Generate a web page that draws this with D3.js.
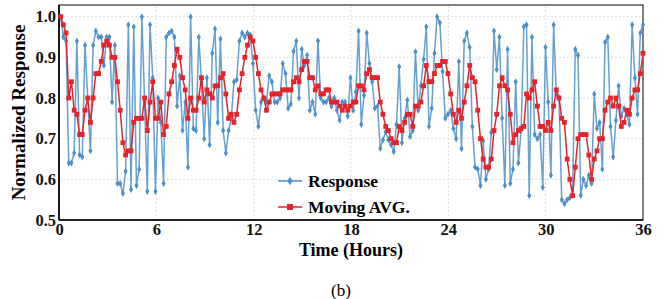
<!DOCTYPE html>
<html>
<head>
<meta charset="utf-8">
<script src="https://cdn.jsdelivr.net/npm/d3@7"></script>
<style>
  body { margin: 0; background: #fff; }
  text { font-family: "Liberation Serif", "DejaVu Serif", serif; }
</style>
</head>
<body>
<svg id="chart"></svg>
<script>
const width = 669;
const height = 299;

// readings, one every ~10 minutes over 36 hours
const response = [
  1.00, 0.95, 0.94, 0.64, 0.64, 0.665, 0.94, 0.66, 0.655, 0.93,
  0.80, 0.67, 0.93, 0.965, 0.95, 0.95, 0.88, 0.95, 0.95, 0.79,
  0.93, 0.59, 0.59, 0.565, 0.62, 0.98, 0.575, 0.975, 0.585, 0.625,
  1.00, 0.79, 0.57, 0.98, 0.85, 0.57, 0.80, 0.74, 0.59, 0.95,
  0.96, 0.965, 0.95, 0.78, 0.855, 0.72, 0.79, 0.63, 1.00, 0.725,
  0.72, 0.95, 0.84, 0.70, 0.85, 0.685, 0.91, 0.97, 0.74, 0.945,
  0.72, 0.665, 0.72, 0.75, 0.84, 0.845, 0.94, 0.96, 0.95, 0.96,
  0.955, 0.885, 0.77, 0.73, 0.79, 0.80, 0.79, 0.855, 0.84, 0.79,
  0.79, 0.80, 0.885, 0.86, 0.775, 0.785, 0.915, 0.94, 0.80, 0.92,
  0.88, 0.905, 0.77, 0.79, 0.76, 0.94, 0.80, 0.79, 0.79, 0.80,
  0.78, 0.80, 0.77, 0.745, 0.79, 0.79, 0.755, 0.85, 0.77, 0.815,
  0.965, 0.735, 0.807, 0.96, 0.885, 0.84, 0.775, 0.78, 0.676, 0.697,
  0.717, 0.697, 0.685, 0.668, 0.735, 0.877, 0.69, 0.75, 0.795, 0.705,
  0.72, 0.914, 0.77, 0.83, 0.895, 0.975, 0.73, 0.775, 0.91, 1.00,
  0.985, 0.865, 0.75, 0.76, 0.77, 0.725, 0.70, 0.89, 0.675, 0.94,
  0.96, 0.925, 0.73, 0.63, 0.625, 0.585, 0.695, 0.60, 0.625, 0.715,
  0.965, 0.87, 0.95, 0.75, 0.585, 0.92, 0.59, 0.625, 0.84, 0.64,
  0.72, 0.975, 0.98, 0.56, 0.95, 0.71, 0.70, 0.71, 0.58, 0.925,
  0.79, 0.61, 0.98, 0.81, 0.80, 0.55, 0.54, 0.55, 0.555, 0.56,
  0.92, 0.905, 0.56, 0.60, 0.585, 0.61, 0.59, 0.81, 0.725, 0.74,
  0.625, 0.937, 0.95, 0.73, 0.655, 0.745, 0.83, 0.755, 0.775, 0.76,
  0.735, 0.98, 0.85, 0.76, 0.96, 0.98
];

const movingAvg = [
  1.00, 0.98, 0.96, 0.80, 0.84, 0.77, 0.76, 0.71, 0.71, 0.77,
  0.80, 0.74, 0.80, 0.86, 0.86, 0.89, 0.93, 0.94, 0.93, 0.90,
  0.90, 0.84, 0.77, 0.69, 0.66, 0.67, 0.67, 0.74, 0.75, 0.75,
  0.75, 0.80, 0.72, 0.79, 0.84, 0.75, 0.75, 0.79, 0.71, 0.73,
  0.81, 0.84, 0.88, 0.92, 0.90, 0.85, 0.82, 0.75, 0.80, 0.77,
  0.77, 0.80, 0.85, 0.79, 0.82, 0.81, 0.80, 0.83, 0.83, 0.85,
  0.86, 0.81, 0.75, 0.76, 0.74, 0.76, 0.82, 0.86, 0.90, 0.93,
  0.95, 0.94, 0.90, 0.86, 0.82, 0.80, 0.77, 0.79, 0.81, 0.81,
  0.81, 0.81, 0.82, 0.82, 0.82, 0.82, 0.84, 0.85, 0.84, 0.87,
  0.89, 0.89, 0.85, 0.85, 0.82, 0.83, 0.81, 0.81, 0.82, 0.82,
  0.79, 0.79, 0.79, 0.78, 0.77, 0.78, 0.77, 0.78, 0.79, 0.79,
  0.83, 0.83, 0.82, 0.86, 0.87, 0.85, 0.85, 0.85, 0.79, 0.76,
  0.73, 0.72, 0.70, 0.69, 0.69, 0.73, 0.72, 0.74, 0.76, 0.76,
  0.73, 0.78, 0.78, 0.79, 0.83, 0.88, 0.84, 0.84, 0.86, 0.88,
  0.88, 0.89, 0.89, 0.86, 0.81, 0.76, 0.74, 0.77, 0.75, 0.79,
  0.83, 0.88, 0.85, 0.84, 0.77, 0.70, 0.65, 0.63, 0.63, 0.65,
  0.72, 0.76, 0.83, 0.85, 0.83, 0.82, 0.76, 0.69, 0.71, 0.72,
  0.725, 0.73, 0.81, 0.80, 0.82, 0.84, 0.78, 0.73, 0.73, 0.72,
  0.74, 0.72, 0.78, 0.82, 0.80, 0.75, 0.74, 0.65, 0.60, 0.56,
  0.63, 0.70, 0.71, 0.71, 0.71, 0.66, 0.60, 0.65, 0.67, 0.70,
  0.70, 0.77, 0.79, 0.80, 0.78, 0.80, 0.78, 0.73, 0.74, 0.77,
  0.76, 0.80, 0.82, 0.82, 0.86, 0.91
];

// sample times in hours (first sample ~6 min in, then every ~10 min)
const hours = response.map((d, i) => 0.1 + i * 35.9 / (response.length - 1));

const xTicks = [0, 6, 12, 18, 24, 30, 36];
const yTicks = [0.5, 0.6, 0.7, 0.8, 0.9, 1.0];

const margin = { top: 5, right: 26, bottom: 79, left: 59 };

var svg = d3.select("#chart")
    .attr("width", width)
    .attr("height", height);

var x = d3.scaleLinear()
    .domain([0, 36])
    .range([margin.left, width - margin.right]);

var y = d3.scaleLinear()
    .domain([0.5, 1.0287])
    .range([height - margin.bottom, margin.top]);

// grid
svg.append("g")
    .selectAll("line.vg")
    .data(xTicks)
    .enter().append("line")
    .attr("x1", d => x(d)).attr("x2", d => x(d))
    .attr("y1", y.range()[0]).attr("y2", y.range()[1])
    .attr("stroke", "#d6d6d6")
    .attr("stroke-width", 0.8)
    .attr("stroke-dasharray", "2,2");

svg.append("g")
    .selectAll("line.hg")
    .data(yTicks)
    .enter().append("line")
    .attr("y1", d => y(d)).attr("y2", d => y(d))
    .attr("x1", x.range()[0]).attr("x2", x.range()[1])
    .attr("stroke", "#d6d6d6")
    .attr("stroke-width", 0.8)
    .attr("stroke-dasharray", "2,2");

// axes
var xAxis = svg.append("g")
    .attr("transform", `translate(0,${y.range()[0]})`)
    .call(d3.axisBottom(x).tickValues(xTicks).tickSize(0).tickPadding(3));

var yAxis = svg.append("g")
    .attr("transform", `translate(${x.range()[0]},0)`)
    .call(d3.axisLeft(y).tickValues(yTicks).tickFormat(d3.format(".1f")).tickSize(0).tickPadding(3));

[xAxis, yAxis].forEach(a => {
    a.select(".domain").remove();
    a.selectAll("text")
        .style("font-family", "'Liberation Serif', serif")
        .style("font-size", "16.5px")
        .style("font-weight", "bold")
        .attr("fill", "#111");
});

// frame
svg.append("rect")
    .attr("x", x.range()[0])
    .attr("y", margin.top)
    .attr("width", x.range()[1] - x.range()[0])
    .attr("height", y.range()[0] - margin.top)
    .attr("fill", "none")
    .attr("stroke", "#333")
    .attr("stroke-width", 1.2);

svg.append("line")
    .attr("x1", x.range()[0]).attr("x2", x.range()[1])
    .attr("y1", y.range()[0]).attr("y2", y.range()[0])
    .attr("stroke", "#000").attr("stroke-width", 1.6);
svg.append("line")
    .attr("x1", x.range()[0]).attr("x2", x.range()[0])
    .attr("y1", margin.top).attr("y2", y.range()[0])
    .attr("stroke", "#000").attr("stroke-width", 1.6);

// series
const blue = "#4a8fc9";
const red = "#e3242b";

var line = d3.line()
    .x((d, i) => x(hours[i]))
    .y(d => y(d));

svg.append("path")
    .datum(response)
    .attr("fill", "none")
    .attr("stroke", blue)
    .attr("stroke-opacity", 0.85)
    .attr("stroke-width", 1.5)
    .attr("d", line);

var diamond = d3.symbol().type(d3.symbolDiamond).size(14);

svg.append("g")
    .selectAll("path")
    .data(response)
    .enter().append("path")
    .attr("transform", (d, i) => `translate(${x(hours[i])},${y(d)})`)
    .attr("d", diamond)
    .attr("fill", blue);

svg.append("path")
    .datum(movingAvg)
    .attr("fill", "none")
    .attr("stroke", red)
    .attr("stroke-width", 1.5)
    .attr("d", line);

svg.append("g")
    .selectAll("rect")
    .data(movingAvg)
    .enter().append("rect")
    .attr("x", (d, i) => x(hours[i]) - 2.4)
    .attr("y", d => y(d) - 2.4)
    .attr("width", 4.8)
    .attr("height", 4.8)
    .attr("fill", red);

// legend
var legend = svg.append("g").attr("transform", "translate(278,181)");

legend.append("line")
    .attr("x1", 0).attr("x2", 24).attr("y1", 0).attr("y2", 0)
    .attr("stroke", blue).attr("stroke-width", 1.5);
legend.append("path")
    .attr("transform", "translate(12,0)")
    .attr("d", d3.symbol().type(d3.symbolDiamond).size(22))
    .attr("fill", blue);
legend.append("text")
    .attr("x", 30).attr("y", 6)
    .style("font-size", "17.5px").style("font-weight", "bold")
    .text("Response");

legend.append("line")
    .attr("x1", 0).attr("x2", 24).attr("y1", 26).attr("y2", 26)
    .attr("stroke", red).attr("stroke-width", 1.5);
legend.append("rect")
    .attr("x", 9).attr("y", 23).attr("width", 6).attr("height", 6)
    .attr("fill", red);
legend.append("text")
    .attr("x", 30).attr("y", 32)
    .style("font-size", "17.5px").style("font-weight", "bold")
    .text("Moving AVG.");

// labels
svg.append("text")
    .attr("x", (x.range()[0] + x.range()[1]) / 2)
    .attr("y", 256)
    .attr("text-anchor", "middle")
    .style("font-size", "18px").style("font-weight", "bold")
    .text("Time (Hours)");

svg.append("text")
    .attr("transform", `translate(25,${(y.range()[0] + margin.top) / 2}) rotate(-90)`)
    .attr("text-anchor", "middle")
    .style("font-size", "19px").style("font-weight", "bold")
    .text("Normalized Response");

svg.append("text")
    .attr("x", 341)
    .attr("y", 296)
    .attr("text-anchor", "middle")
    .style("font-size", "17px")
    .text("(b)");
</script>
</body>
</html>
